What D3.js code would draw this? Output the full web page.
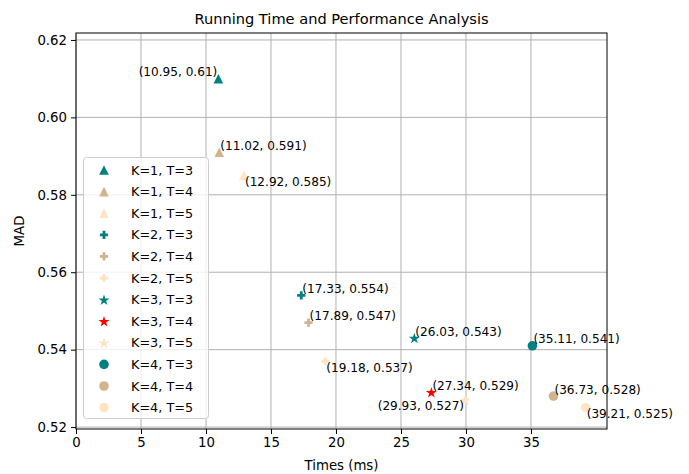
<!DOCTYPE html>
<html>
<head>
<meta charset="utf-8">
<script src="https://cdn.jsdelivr.net/npm/d3@7"></script>
<style>
  body { margin: 0; background: #fff; }
  svg { font-family: "DejaVu Sans", sans-serif; }
</style>
</head>
<body>
<svg id="vis" width="689" height="474"></svg>
<script>
// one entry per K/T run
const series = ["K=1, T=3", "K=1, T=4", "K=1, T=5",
                "K=2, T=3", "K=2, T=4", "K=2, T=5",
                "K=3, T=3", "K=3, T=4", "K=3, T=5",
                "K=4, T=3", "K=4, T=4", "K=4, T=5"];
const times = [10.95, 11.02, 12.92, 17.33, 17.89, 19.18, 26.03, 27.34, 29.93, 35.11, 36.73, 39.21];
const mad = [0.61, 0.591, 0.585, 0.554, 0.547, 0.537, 0.543, 0.529, 0.527, 0.541, 0.528, 0.525];
const shapes = ["tri", "tri", "tri", "plus", "plus", "plus", "star", "star", "star", "circle", "circle", "circle"];
const colors = ["#008080", "#d2b48c", "#ffe4c4", "#008080", "#d2b48c", "#ffe4c4",
                "#008080", "#ff0000", "#ffe4c4", "#008080", "#d2b48c", "#ffe4c4"];
const xTicks = [0, 5, 10, 15, 20, 25, 30, 35];
const yTicks = [0.52, 0.54, 0.56, 0.58, 0.60, 0.62];

// where each annotation sits relative to its point
const labelAlign = ["end", "start", "start", "start", "start", "start", "start", "start", "end", "start", "start", "start"];
const labelSide = ["up", "up", "down", "up", "up", "down", "up", "up", "down", "up", "up", "down"];

const W = 689, H = 474;
const m = {left: 76, right: 607, top: 33, bottom: 429};

const svg = d3.select("#vis");
const x = d3.scaleLinear().domain([0, 40.85]).range([m.left, m.right]);
const y = d3.scaleLinear().domain([0.5195, 0.6218]).range([m.bottom, m.top]);

const markerPath = (shape) => {
    if (shape === "tri") {
        const r = 4.8;
        return `M0,${-r}L${-r},${r}L${r},${r}Z`;
    }
    if (shape === "plus") {
        const r = 4.1, t = 1.4;
        return `M${-t},${-r}H${t}V${-t}H${r}V${t}H${t}V${r}H${-t}V${t}H${-r}V${-t}H${-t}Z`;
    }
    if (shape === "star") {
        const R = 5.8, ri = R * 0.382;
        let p = "";
        for (let i = 0; i < 10; i++) {
            const rr = i % 2 === 0 ? R : ri;
            const a = -Math.PI / 2 + i * Math.PI / 5;
            p += (i === 0 ? "M" : "L") + (rr * Math.cos(a)).toFixed(2) + "," + (rr * Math.sin(a) + 0.6).toFixed(2);
        }
        return p + "Z";
    }
    return d3.symbol(d3.symbolCircle, Math.PI * 4.8 * 4.8)();
};

// grid
const g = svg.append("g");
g.selectAll(".gx").data(xTicks).join("line")
    .attr("x1", d => x(d)).attr("x2", d => x(d))
    .attr("y1", m.top).attr("y2", m.bottom)
    .attr("stroke", "#b0b0b0").attr("stroke-width", 1);
g.selectAll(".gy").data(yTicks).join("line")
    .attr("y1", d => y(d)).attr("y2", d => y(d))
    .attr("x1", m.left).attr("x2", m.right)
    .attr("stroke", "#b0b0b0").attr("stroke-width", 1);

// axes
const xAxis = svg.append("g").attr("transform", `translate(0,${m.bottom})`)
    .call(d3.axisBottom(x).tickValues(xTicks).tickFormat(d3.format("d")).tickSize(5).tickPadding(4));
const yAxis = svg.append("g").attr("transform", `translate(${m.left},0)`)
    .call(d3.axisLeft(y).tickValues(yTicks).tickFormat(d3.format(".2f")).tickSize(5).tickPadding(4));
[xAxis, yAxis].forEach(a => {
    a.select(".domain").remove();
    a.selectAll("text").attr("font-size", 13.3).attr("fill", "#000")
        .attr("font-family", "DejaVu Sans");
    a.selectAll("line").attr("stroke", "#000");
});

svg.append("rect")
    .attr("x", m.left).attr("y", m.top)
    .attr("width", m.right - m.left).attr("height", m.bottom - m.top)
    .attr("fill", "none").attr("stroke", "#000").attr("stroke-width", 1);

// points
const idx = d3.range(series.length);
svg.append("g").selectAll("path").data(idx).join("path")
    .attr("d", i => markerPath(shapes[i]))
    .attr("transform", i => `translate(${x(times[i])},${y(mad[i])})`)
    .attr("fill", i => colors[i]);

// annotations
svg.append("g").selectAll("text").data(idx).join("text")
    .attr("x", i => x(times[i]) + (labelAlign[i] === "end" ? -1 : 1))
    .attr("y", i => y(mad[i]) + (labelSide[i] === "up" ? -6.5 : 6.5))
    .attr("text-anchor", i => labelAlign[i])
    .attr("dominant-baseline", "central")
    .attr("font-size", 12.1)
    .text(i => `(${times[i]}, ${mad[i]})`);

// legend
const lg = svg.append("g");
lg.append("rect")
    .attr("x", 83.5).attr("y", 157.5).attr("width", 125).attr("height", 261)
    .attr("rx", 3).attr("fill", "#fff").attr("fill-opacity", 0.8)
    .attr("stroke", "#cccccc").attr("stroke-width", 1);
const rowY = i => 170 + i * 21.6;
lg.selectAll("path").data(idx).join("path")
    .attr("d", i => markerPath(shapes[i]))
    .attr("transform", i => `translate(104,${rowY(i)})`)
    .attr("fill", i => colors[i]);
lg.selectAll("text").data(idx).join("text")
    .attr("x", 131).attr("y", i => rowY(i))
    .attr("dominant-baseline", "central")
    .attr("font-size", 12.8)
    .text(i => series[i]);

// titles
svg.append("text").attr("x", (m.left + m.right) / 2).attr("y", 18)
    .attr("text-anchor", "middle").attr("dominant-baseline", "central")
    .attr("font-size", 14.6).text("Running Time and Performance Analysis");
svg.append("text").attr("x", (m.left + m.right) / 2).attr("y", 465)
    .attr("text-anchor", "middle").attr("dominant-baseline", "central")
    .attr("font-size", 13.3).text("Times (ms)");
svg.append("text")
    .attr("transform", `translate(19,${(m.top + m.bottom) / 2}) rotate(-90)`)
    .attr("text-anchor", "middle").attr("dominant-baseline", "central")
    .attr("font-size", 13.3).text("MAD");
</script>
</body>
</html>
